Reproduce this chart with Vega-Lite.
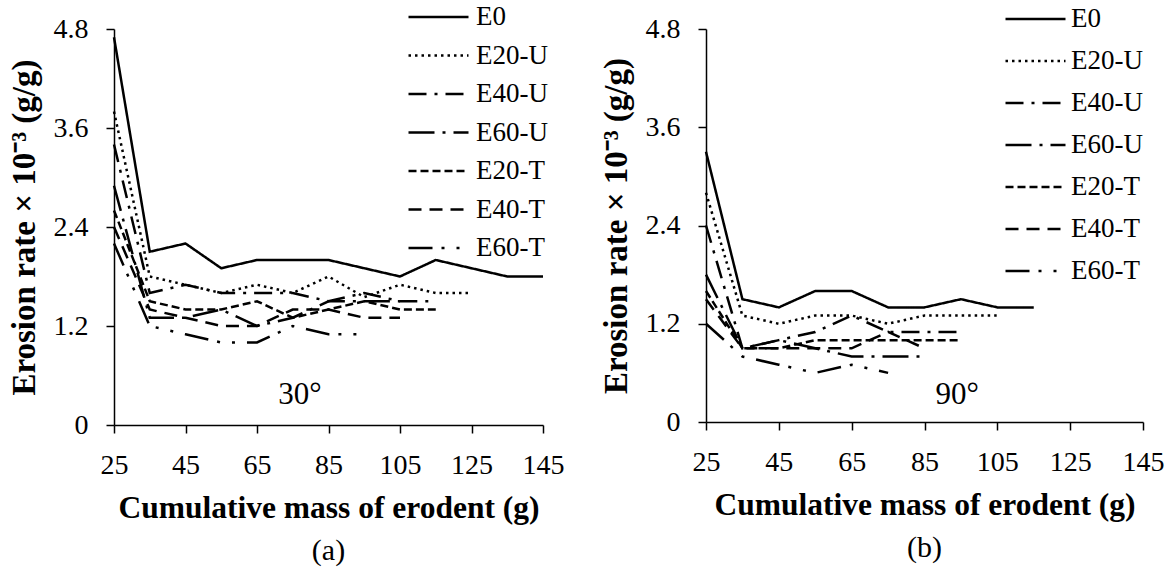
{
  "$schema": "https://vega.github.io/schema/vega-lite/v6.json",
  "padding": {"left": 8, "top": 2, "right": 5, "bottom": 5},
  "background": "white",
  "config": {
    "font": "Liberation Serif",
    "view": {"stroke": null},
    "axis": {
      "domainColor": "black", "tickColor": "black", "labelColor": "black", "titleColor": "black",
      "grid": false, "labelFont": "Liberation Serif", "titleFont": "Liberation Serif",
      "labelFontSize": 28, "titleFontSize": 31.5, "titleFontWeight": "bold",
      "tickSize": 8, "domainWidth": 1.5, "tickWidth": 1.5, "labelPadding": 18, "labelFlush": false
    },
    "axisX": {"titlePadding": 13},
    "axisY": {"titlePadding": 12, "titleFontSize": 33},
    "legend": {
      "title": null, "labelFont": "Liberation Serif", "labelFontSize": 27, "labelColor": "black",
      "symbolType": "stroke", "symbolStrokeColor": "black", "symbolStrokeWidth": 2.5, "symbolSize": 3600,
      "labelOffset": 6, "clipHeight": 30
    },
    "title": {"font": "Liberation Serif", "fontSize": 30, "fontWeight": "normal", "color": "black"}
  },
  "datasets": {
    "a": [
      {"s":"E0","m":25,"v":4.7},{"s":"E0","m":35,"v":2.1},{"s":"E0","m":45,"v":2.2},{"s":"E0","m":55,"v":1.9},{"s":"E0","m":65,"v":2.0},{"s":"E0","m":75,"v":2.0},{"s":"E0","m":85,"v":2.0},{"s":"E0","m":95,"v":1.9},{"s":"E0","m":105,"v":1.8},{"s":"E0","m":115,"v":2.0},{"s":"E0","m":125,"v":1.9},{"s":"E0","m":135,"v":1.8},{"s":"E0","m":145,"v":1.8},
      {"s":"E20-U","m":25,"v":3.8},{"s":"E20-U","m":35,"v":1.8},{"s":"E20-U","m":45,"v":1.7},{"s":"E20-U","m":55,"v":1.6},{"s":"E20-U","m":65,"v":1.7},{"s":"E20-U","m":75,"v":1.6},{"s":"E20-U","m":85,"v":1.8},{"s":"E20-U","m":95,"v":1.55},{"s":"E20-U","m":105,"v":1.7},{"s":"E20-U","m":115,"v":1.6},{"s":"E20-U","m":125,"v":1.6},
      {"s":"E40-U","m":25,"v":3.4},{"s":"E40-U","m":35,"v":1.6},{"s":"E40-U","m":45,"v":1.7},{"s":"E40-U","m":55,"v":1.6},{"s":"E40-U","m":65,"v":1.6},{"s":"E40-U","m":75,"v":1.6},{"s":"E40-U","m":85,"v":1.5},{"s":"E40-U","m":95,"v":1.6},{"s":"E40-U","m":105,"v":1.5},{"s":"E40-U","m":115,"v":1.5},
      {"s":"E60-U","m":25,"v":2.9},{"s":"E60-U","m":35,"v":1.3},{"s":"E60-U","m":45,"v":1.3},{"s":"E60-U","m":55,"v":1.4},{"s":"E60-U","m":65,"v":1.2},{"s":"E60-U","m":75,"v":1.3},{"s":"E60-U","m":85,"v":1.5},{"s":"E60-U","m":95,"v":1.5},{"s":"E60-U","m":105,"v":1.5},
      {"s":"E20-T","m":25,"v":2.6},{"s":"E20-T","m":35,"v":1.5},{"s":"E20-T","m":45,"v":1.4},{"s":"E20-T","m":55,"v":1.4},{"s":"E20-T","m":65,"v":1.5},{"s":"E20-T","m":75,"v":1.3},{"s":"E20-T","m":85,"v":1.4},{"s":"E20-T","m":95,"v":1.5},{"s":"E20-T","m":105,"v":1.4},{"s":"E20-T","m":115,"v":1.4},
      {"s":"E40-T","m":25,"v":2.4},{"s":"E40-T","m":35,"v":1.4},{"s":"E40-T","m":45,"v":1.3},{"s":"E40-T","m":55,"v":1.2},{"s":"E40-T","m":65,"v":1.2},{"s":"E40-T","m":75,"v":1.4},{"s":"E40-T","m":85,"v":1.4},{"s":"E40-T","m":95,"v":1.3},{"s":"E40-T","m":105,"v":1.3},
      {"s":"E60-T","m":25,"v":2.2},{"s":"E60-T","m":35,"v":1.2},{"s":"E60-T","m":45,"v":1.1},{"s":"E60-T","m":55,"v":1.0},{"s":"E60-T","m":65,"v":1.0},{"s":"E60-T","m":75,"v":1.2},{"s":"E60-T","m":85,"v":1.1},{"s":"E60-T","m":95,"v":1.1}
    ],
    "b": [
      {"s":"E0","m":25,"v":3.3},{"s":"E0","m":35,"v":1.5},{"s":"E0","m":45,"v":1.4},{"s":"E0","m":55,"v":1.6},{"s":"E0","m":65,"v":1.6},{"s":"E0","m":75,"v":1.4},{"s":"E0","m":85,"v":1.4},{"s":"E0","m":95,"v":1.5},{"s":"E0","m":105,"v":1.4},{"s":"E0","m":115,"v":1.4},
      {"s":"E20-U","m":25,"v":2.8},{"s":"E20-U","m":35,"v":1.3},{"s":"E20-U","m":45,"v":1.2},{"s":"E20-U","m":55,"v":1.3},{"s":"E20-U","m":65,"v":1.3},{"s":"E20-U","m":75,"v":1.2},{"s":"E20-U","m":85,"v":1.3},{"s":"E20-U","m":95,"v":1.3},{"s":"E20-U","m":105,"v":1.3},
      {"s":"E40-U","m":25,"v":2.4},{"s":"E40-U","m":35,"v":0.9},{"s":"E40-U","m":45,"v":1.0},{"s":"E40-U","m":55,"v":1.1},{"s":"E40-U","m":65,"v":1.3},{"s":"E40-U","m":75,"v":1.1},{"s":"E40-U","m":85,"v":1.1},{"s":"E40-U","m":95,"v":1.1},
      {"s":"E60-U","m":25,"v":1.8},{"s":"E60-U","m":35,"v":0.9},{"s":"E60-U","m":45,"v":1.0},{"s":"E60-U","m":55,"v":0.9},{"s":"E60-U","m":65,"v":0.8},{"s":"E60-U","m":75,"v":0.8},{"s":"E60-U","m":85,"v":0.8},
      {"s":"E20-T","m":25,"v":1.6},{"s":"E20-T","m":35,"v":0.9},{"s":"E20-T","m":45,"v":0.9},{"s":"E20-T","m":55,"v":1.0},{"s":"E20-T","m":65,"v":1.0},{"s":"E20-T","m":75,"v":1.0},{"s":"E20-T","m":85,"v":1.0},{"s":"E20-T","m":95,"v":1.0},
      {"s":"E40-T","m":25,"v":1.5},{"s":"E40-T","m":35,"v":0.9},{"s":"E40-T","m":45,"v":0.9},{"s":"E40-T","m":55,"v":0.9},{"s":"E40-T","m":65,"v":0.9},{"s":"E40-T","m":75,"v":1.1},{"s":"E40-T","m":85,"v":0.9},
      {"s":"E60-T","m":25,"v":1.2},{"s":"E60-T","m":35,"v":0.8},{"s":"E60-T","m":45,"v":0.7},{"s":"E60-T","m":55,"v":0.6},{"s":"E60-T","m":65,"v":0.7},{"s":"E60-T","m":75,"v":0.6}
    ]
  },
  "spacing": 36,
  "resolve": {"scale": {"strokeDash": "independent"}, "legend": {"strokeDash": "independent"}},
  "hconcat": [
    {
      "width": 429, "height": 396,
      "title": {"text": "(a)", "orient": "bottom", "offset": 12},
      "layer": [
        {
          "data": {"name": "a"},
          "mark": {"type": "line", "strokeWidth": 2.5, "color": "black"},
          "encoding": {
            "x": {"field": "m", "type": "quantitative", "scale": {"domain": [25, 145], "nice": false, "zero": false}, "axis": {"values": [25,45,65,85,105,125,145], "title": "Cumulative mass of erodent (g)"}},
            "y": {"field": "v", "type": "quantitative", "scale": {"domain": [0, 4.8], "nice": false}, "axis": {"values": [0,1.2,2.4,3.6,4.8], "labelExpr": "datum.value == 0 ? '0' : format(datum.value, '.1f')", "title": "Erosion rate × 10⁻³ (g/g)"}},
            "strokeDash": {"field": "s", "type": "nominal",
              "scale": {"domain": ["E0","E20-U","E40-U","E60-U","E20-T","E40-T","E60-T"],
                        "range": [[1,0],[2.5,4],[18,8,3,8],[26,8,3,8],[8,4],[13,8],[24,9,3,12,3,12]]},
              "legend": {"orient": "none", "legendX": 293, "legendY": -27, "rowPadding": 8.5, "labelOffset": 6}}
          }
        },
        {
          "data": {"values": [{"label": "30°", "m": 77, "v": 0.36}]},
          "mark": {"type": "text", "fontSize": 31, "font": "Liberation Serif", "color": "black"},
          "encoding": {"x": {"field": "m", "type": "quantitative"}, "y": {"field": "v", "type": "quantitative"}, "text": {"field": "label"}}
        }
      ]
    },
    {
      "width": 437, "height": 393,
      "title": {"text": "(b)", "orient": "bottom", "offset": 12},
      "layer": [
        {
          "data": {"name": "b"},
          "mark": {"type": "line", "strokeWidth": 2.5, "color": "black"},
          "encoding": {
            "x": {"field": "m", "type": "quantitative", "scale": {"domain": [25, 145], "nice": false, "zero": false}, "axis": {"values": [25,45,65,85,105,125,145], "title": "Cumulative mass of erodent (g)"}},
            "y": {"field": "v", "type": "quantitative", "scale": {"domain": [0, 4.8], "nice": false}, "axis": {"values": [0,1.2,2.4,3.6,4.8], "labelExpr": "datum.value == 0 ? '0' : format(datum.value, '.1f')", "title": "Erosion rate × 10⁻³ (g/g)"}},
            "strokeDash": {"field": "s", "type": "nominal",
              "scale": {"domain": ["E0","E20-U","E40-U","E60-U","E20-T","E40-T","E60-T"],
                        "range": [[1,0],[2.5,4],[18,8,3,8],[26,8,3,8],[8,4],[13,8],[24,9,3,12,3,12]]},
              "legend": {"orient": "none", "legendX": 298, "legendY": -25, "rowPadding": 12, "labelOffset": 4}}
          }
        },
        {
          "data": {"values": [{"label": "90°", "m": 94, "v": 0.33}]},
          "mark": {"type": "text", "fontSize": 31, "font": "Liberation Serif", "color": "black"},
          "encoding": {"x": {"field": "m", "type": "quantitative"}, "y": {"field": "v", "type": "quantitative"}, "text": {"field": "label"}}
        }
      ]
    }
  ]
}
